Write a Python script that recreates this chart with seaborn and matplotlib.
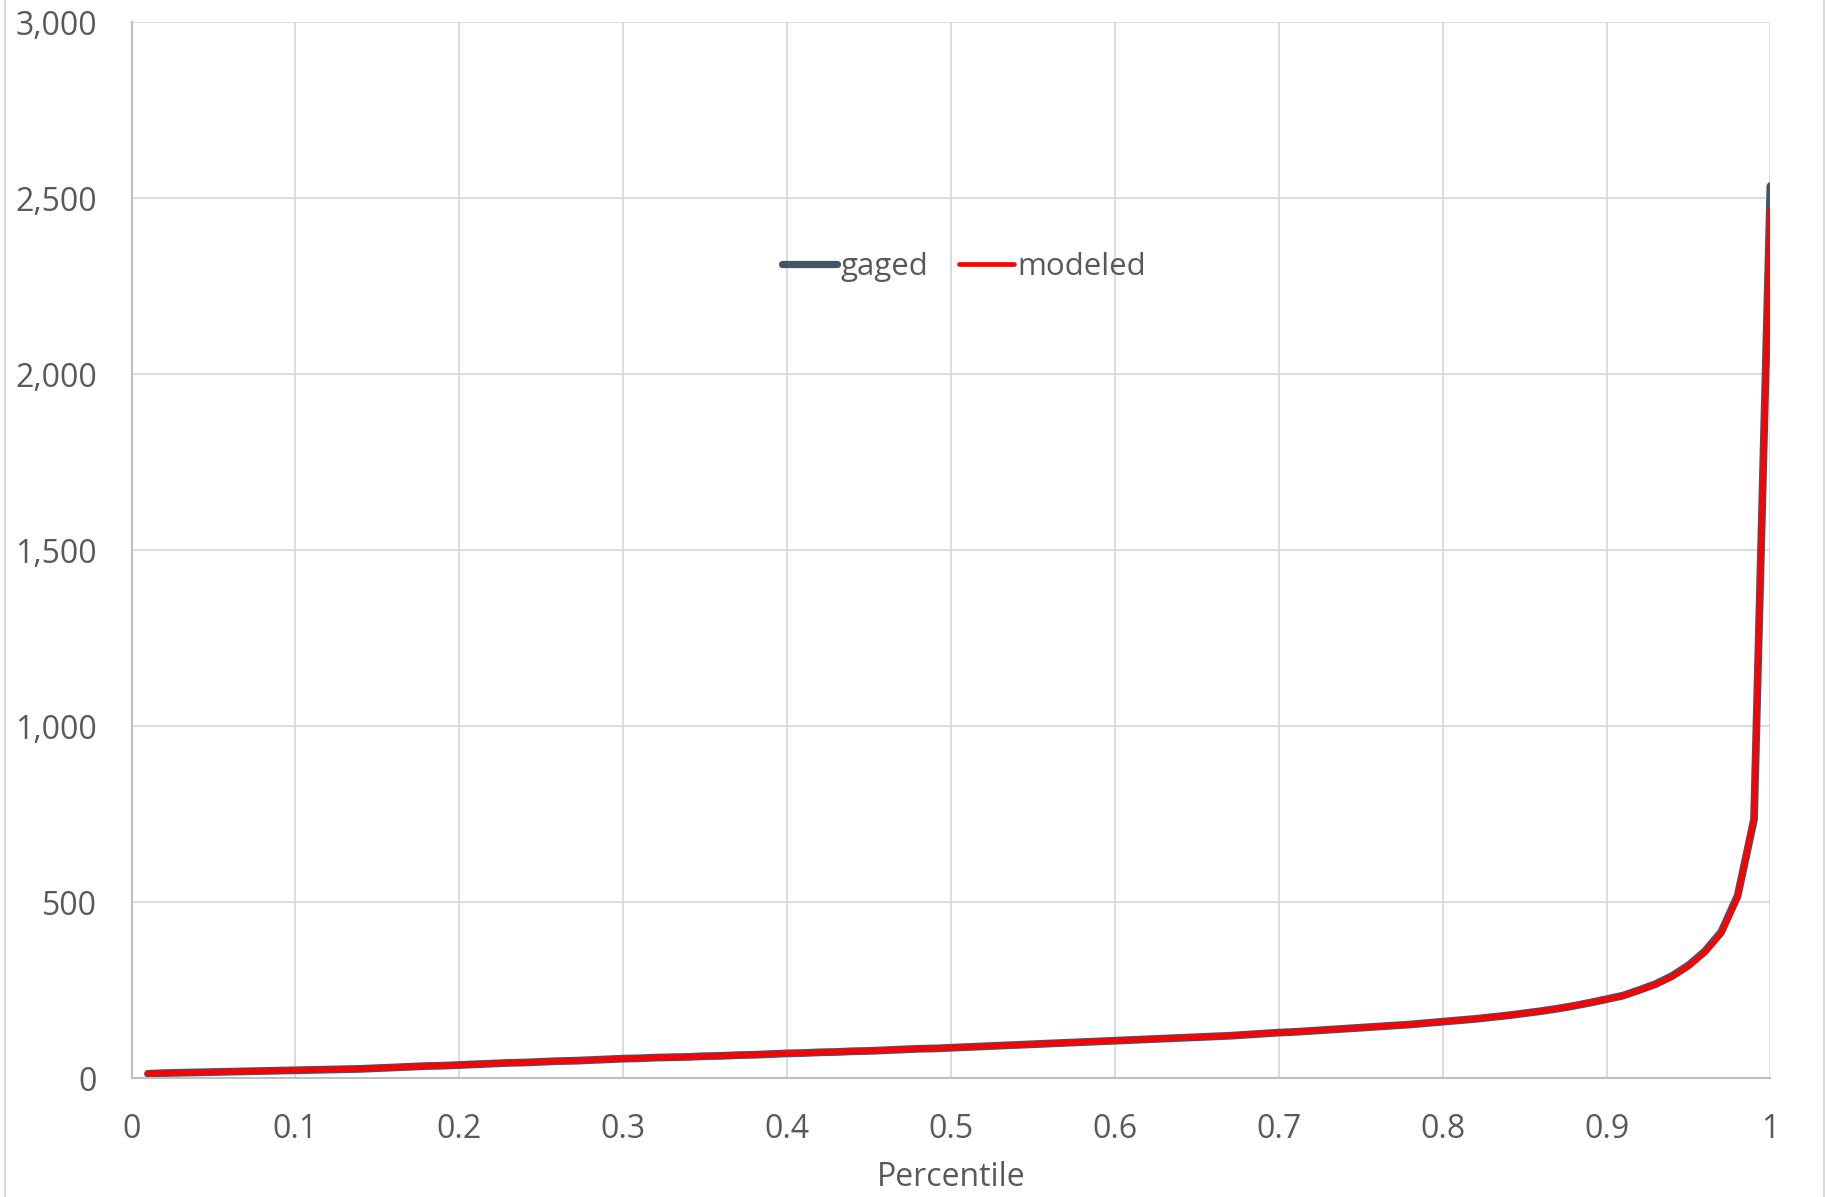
import numpy as np
import pandas as pd
import matplotlib.pyplot as plt
import matplotlib.ticker as mticker
from matplotlib.lines import Line2D
import seaborn as sns

# ==========================================
# data
# ==========================================
percentile = [round(0.01 * i, 2) for i in range(1, 101)]

gaged = [
    12, 14, 15, 16, 17, 18, 19, 20, 21, 22,
    23, 24, 25, 26, 28, 30, 32, 34, 35, 37,
    39, 41, 43, 44, 46, 48, 49, 51, 53, 55,
    56, 58, 59, 60, 62, 63, 65, 66, 68, 70,
    71, 73, 74, 76, 77, 79, 81, 83, 84, 86,
    88, 90, 92, 94, 96, 98, 100, 102, 104, 106,
    108, 110, 112, 114, 116, 118, 120, 123, 126, 129,
    131, 134, 137, 140, 143, 146, 149, 152, 156, 160,
    164, 168, 173, 178, 184, 190, 197, 205, 214, 224,
    234, 250, 267, 290, 320, 360, 415, 518, 735, 2534,
]

modeled = [
    12, 14, 15, 16, 17, 18, 19, 20, 21, 22,
    23, 24, 25, 26, 28, 30, 32, 34, 35, 37,
    39, 41, 43, 44, 46, 48, 49, 51, 53, 55,
    56, 58, 59, 60, 62, 63, 65, 66, 68, 70,
    71, 73, 74, 76, 77, 79, 81, 83, 84, 86,
    88, 90, 92, 94, 96, 98, 100, 102, 104, 106,
    108, 110, 112, 114, 116, 118, 120, 123, 126, 129,
    131, 134, 137, 140, 143, 146, 149, 152, 156, 160,
    164, 168, 173, 178, 184, 190, 197, 205, 214, 223,
    233, 249, 265, 287, 317, 356, 410, 512, 735, 2465,
]

x_ticks = [0, 0.1, 0.2, 0.3, 0.4, 0.5, 0.6, 0.7, 0.8, 0.9, 1]
y_ticks = [0, 500, 1000, 1500, 2000, 2500, 3000]

df = pd.DataFrame({"Percentile": percentile, "gaged": gaged, "modeled": modeled})

# ==========================================
# plot
# ==========================================
sns.set_theme(style="white")
plt.rcParams['font.family'] = ['Open Sans', 'DejaVu Sans']

text_c = "#595959"
grid_c = "#d9d9d9"
axis_c = "#bfbfbf"
gaged_c = "#44546a"
model_c = "#ff0000"

fig = plt.figure(figsize=(18.25, 11.97), dpi=100)
ax = fig.add_axes([0.0721, 0.0994, 0.8980, 0.8822])

sns.lineplot(data=df, x="Percentile", y="gaged", ax=ax, color=gaged_c,
             linewidth=5.6, solid_capstyle="round", solid_joinstyle="round")
sns.lineplot(data=df, x="Percentile", y="modeled", ax=ax, color=model_c,
             linewidth=3.9, solid_joinstyle="round")

ax.set_xlim(0, 1)
ax.set_ylim(0, 3000)
ax.set_xticks(x_ticks)
ax.set_yticks(y_ticks)
ax.xaxis.set_major_formatter(mticker.FuncFormatter(lambda v, p: f"{v:g}"))
ax.yaxis.set_major_formatter(mticker.FuncFormatter(lambda v, p: f"{int(v):,}"))

ax.grid(True, color=grid_c, linewidth=1.3)
ax.set_axisbelow(True)
for side in ["top", "right"]:
    ax.spines[side].set_visible(False)
for side in ["left", "bottom"]:
    ax.spines[side].set_color(axis_c)
    ax.spines[side].set_linewidth(1.5)

ax.tick_params(axis="y", length=0, pad=25, labelsize=23, labelcolor=text_c)
ax.tick_params(axis="x", length=0, pad=25, labelsize=23, labelcolor=text_c)
ax.set_xlabel("Percentile", fontsize=23, color=text_c, labelpad=11)
ax.set_ylabel("")

handles = [
    Line2D([], [], color=gaged_c, linewidth=5.2, solid_capstyle="round"),
    Line2D([], [], color=model_c, linewidth=3.4, solid_capstyle="round"),
]
ax.legend(handles, ["gaged", "modeled"], loc="center", bbox_to_anchor=(0.508, 0.768),
          ncol=2, frameon=False, fontsize=22.5, labelcolor=text_c,
          handlelength=1.75, handletextpad=0.1, columnspacing=1.0)

# chart area border (left/right edges visible in reference)
fig.add_artist(Line2D([0.0025, 0.0025], [0, 1], color=grid_c, linewidth=1.5,
                      transform=fig.transFigure))
fig.add_artist(Line2D([0.9992, 0.9992], [0, 1], color=grid_c, linewidth=1.5,
                      transform=fig.transFigure))

fig.savefig("out.png", dpi=100)
plt.close(fig)
